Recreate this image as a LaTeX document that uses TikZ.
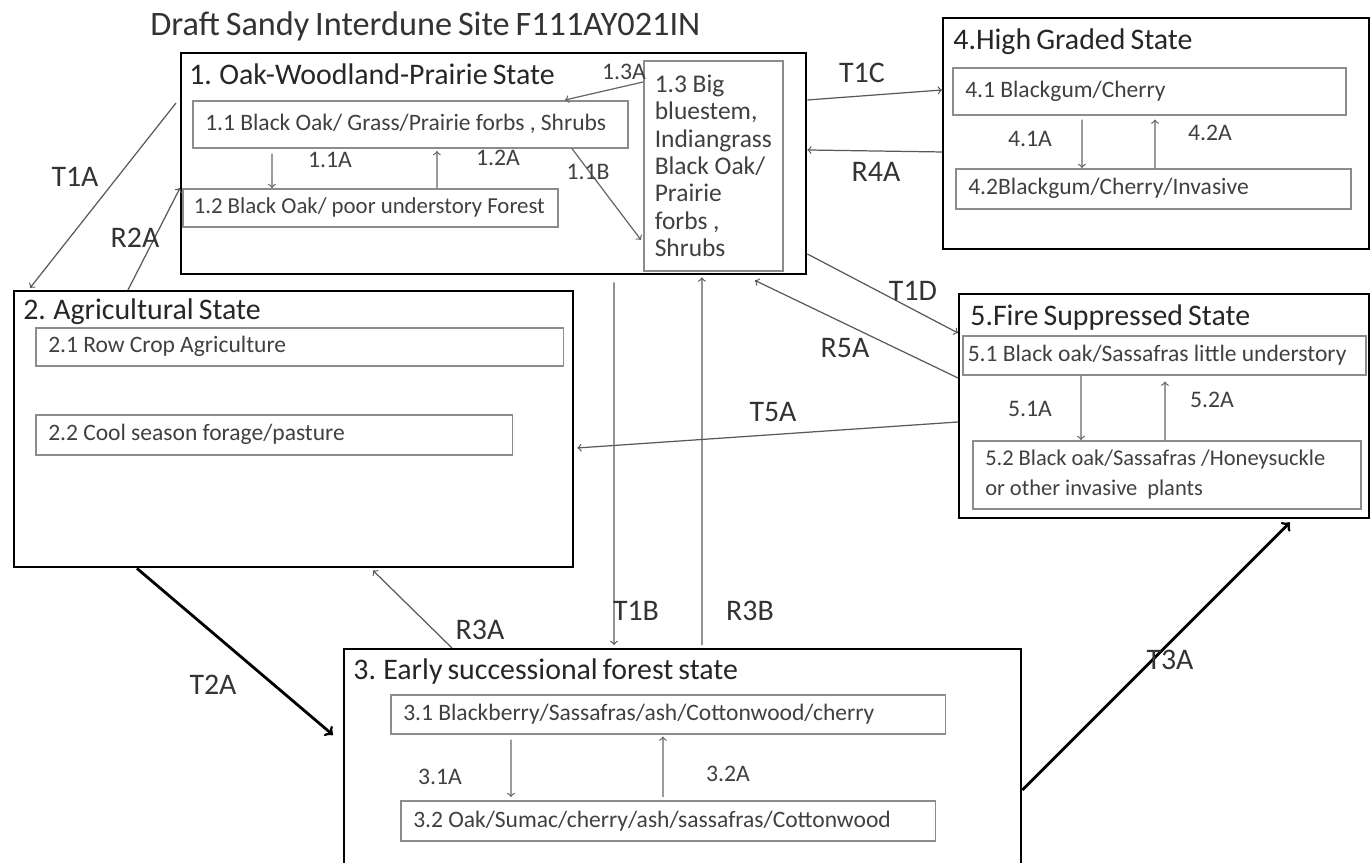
\documentclass[tikz,border=0pt]{standalone}
\usepackage{fontspec}
\setmainfont{Carlito}[WordSpace=0.75]
\usetikzlibrary{positioning}
\usetikzlibrary{arrows}

\begin{document}
\begin{tikzpicture}[x=0.02cm, y=-0.02cm,
	statebox/.style={draw, line width=1.4pt, anchor=north west, inner sep=0pt},
	stitle/.style={anchor=north west, inner sep=0pt, font=\fontsize{17}{20}\selectfont, text=black!85},
	subbox/.style={draw=black!45, line width=0.9pt, anchor=north west, inner xsep=0.25cm, inner ysep=0pt, align=left, font=\fontsize{13.4}{16}\selectfont, text=black!75, execute at begin node={\spaceskip=0.22em\relax}},
	lbl/.style={font=\fontsize{17}{19}\selectfont, text=black!80},
	slbl/.style={font=\fontsize{13.5}{15}\selectfont, text=black!75},
	link/.style={->, draw=black!65, line width=0.7pt},
	sublink/.style={->, draw=black!60, line width=0.7pt},
	boldlink/.style={->, draw=black, line width=1.6pt}]
			\useasboundingbox (0,0) rectangle (1372,862);
			\clip (0,0) rectangle (1372,862);
			\node[anchor=north west, inner sep=0pt, font=\fontsize{19.5}{22}\selectfont, text=black!80] (title) at (150,11) {Draft Sandy Interdune Site F111AY021IN};
			% state 1
			\node[statebox, minimum width=12.5cm, minimum height=4.42cm] (st-1) at (180,52) {};
			\node[stitle] (st-1-t) at (189,63) {1. Oak-Woodland-Prairie State};
			\node[subbox, text width=8.2cm, minimum height=0.94cm] (sub-1-1) at (192,100) {1.1 Black Oak/ Grass/Prairie forbs , Shrubs};
			\node[subbox, text width=7.06cm, inner xsep=0.22cm, minimum height=0.76cm, font=\fontsize{13}{15}\selectfont] (sub-1-2) at (182,188) {1.2 Black Oak/ poor understory Forest};
			\node[subbox, text width=2.34cm, minimum height=4.2cm, inner xsep=0.22cm, font=\fontsize{14.5}{15.6}\selectfont] (sub-1-3) at (643,60) {1.3 Big\\bluestem,\\Indiangrass\\Black Oak/\\Prairie\\forbs ,\\Shrubs};
			% state 4
			\node[statebox, minimum width=8.52cm, minimum height=4.62cm] (st-4) at (942,17) {};
			\node[stitle] (st-4-t) at (953,28) {4.High Graded State};
			\node[subbox, text width=7.36cm, minimum height=0.94cm] (sub-4-1) at (952,67) {4.1 Blackgum/Cherry};
			\node[subbox, text width=7.4cm, minimum height=0.8cm] (sub-4-2) at (955,168) {4.2Blackgum/Cherry/Invasive};
			% state 2
			\node[statebox, minimum width=11.18cm, minimum height=5.52cm] (st-2) at (13,290) {};
			\node[stitle] (st-2-t) at (23,298) {2. Agricultural State};
			\node[subbox, text width=10.06cm, minimum height=0.76cm] (sub-2-1) at (35,327) {2.1 Row Crop Agriculture};
			\node[subbox, text width=9.04cm, minimum height=0.8cm] (sub-2-2) at (35,414) {2.2 Cool season forage/pasture};
			% state 5
			\node[statebox, minimum width=8.2cm, minimum height=4.48cm] (st-5) at (958,293) {};
			\node[stitle] (st-5-t) at (970,304) {5.Fire Suppressed State};
			\node[subbox, minimum height=0.78cm, inner xsep=0.1cm, text width=7.86cm] (sub-5-1) at (962,335) {5.1 Black oak/Sassafras little understory};
			\node[subbox, text width=7.26cm, minimum height=1.36cm, font=\fontsize{12.8}{17}\selectfont] (sub-5-2) at (972,440) {5.2 Black oak/Sassafras /Honeysuckle\\or other invasive\ \ plants};
			% state 3
			\node[statebox, minimum width=13.54cm, minimum height=4.64cm] (st-3) at (343,648) {};
			\node[stitle] (st-3-t) at (353,658) {3. Early successional forest state};
			\node[subbox, text width=10.6cm, minimum height=0.78cm] (sub-3-1) at (390,694) {3.1 Blackberry/Sassafras/ash/Cottonwood/cherry};
			\node[subbox, text width=10.2cm, minimum height=0.8cm] (sub-3-2) at (400,800) {3.2 Oak/Sumac/cherry/ash/sassafras/Cottonwood};
			% community pathways
			\draw[sublink] ([xshift=1.6cm, yshift=-0.1cm]sub-1-1.south west) to ([xshift=1.8cm]sub-1-2.north west);
			\draw[sublink] ([xshift=5.1cm]sub-1-2.north west) to ([xshift=4.9cm, yshift=-0.05cm]sub-1-1.south west);
			\draw[sublink] ([xshift=7.6cm]sub-1-1.south west) to ([xshift=-0.04cm, yshift=-3.6cm]sub-1-3.north west);
			\draw[sublink] ([yshift=-0.44cm]sub-1-3.north west) to ([xshift=7.46cm]sub-1-1.north west);
			\node[slbl] (lbl-1-1a) at (330,160) {1.1A};
			\node[slbl] (lbl-1-2a) at (498,158) {1.2A};
			\node[slbl] (lbl-1-1b) at (588,172) {1.1B};
			\node[slbl] (lbl-1-3a) at (624,72) {1.3A};
			\draw[sublink] ([xshift=2.6cm, yshift=-0.08cm]sub-4-1.south west) to ([xshift=2.54cm]sub-4-2.north west);
			\draw[sublink] ([xshift=4.0cm]sub-4-2.north west) to ([xshift=4.06cm, yshift=-0.08cm]sub-4-1.south west);
			\node[slbl] (lbl-4-1a) at (1030,139) {4.1A};
			\node[slbl] (lbl-4-2a) at (1210,133) {4.2A};
			\draw[sublink] ([xshift=2.38cm]sub-5-1.south west) to ([xshift=2.18cm]sub-5-2.north west);
			\draw[sublink] ([xshift=3.86cm]sub-5-2.north west) to ([xshift=4.06cm, yshift=-0.12cm]sub-5-1.south west);
			\node[slbl] (lbl-5-1a) at (1030,409) {5.1A};
			\node[slbl] (lbl-5-2a) at (1212,400) {5.2A};
			\draw[sublink] ([xshift=2.42cm, yshift=-0.1cm]sub-3-1.south west) to ([xshift=2.22cm, yshift=0.06cm]sub-3-2.north west);
			\draw[sublink] ([xshift=5.26cm, yshift=0.06cm]sub-3-2.north west) to ([xshift=5.46cm, yshift=-0.04cm]sub-3-1.south west);
			\node[slbl] (lbl-3-1a) at (440,777) {3.1A};
			\node[slbl] (lbl-3-2a) at (728,774) {3.2A};
			% transitions
			\draw[link] ([xshift=-0.08cm, yshift=-1.02cm]st-1.north west) to ([xshift=0.34cm, yshift=0.04cm]st-2.north west);
			\draw[link] ([xshift=2.3cm]st-2.north west) to ([yshift=-2.72cm]st-1.north west);
			\draw[link] ([yshift=-0.96cm]st-1.north east) to ([yshift=-1.46cm]st-4.north west);
			\draw[link] ([yshift=-2.7cm]st-4.north west) to ([yshift=-1.96cm]st-1.north east);
			\draw[link] ([yshift=-4.04cm]st-1.north east) to ([yshift=-0.8cm]st-5.north west);
			\draw[link] ([yshift=-1.7cm]st-5.north west) to ([xshift=11.5cm, yshift=-0.1cm]st-1.south west);
			\draw[link] ([yshift=-2.58cm]st-5.north west) to ([xshift=0.06cm, yshift=-3.16cm]st-2.north east);
			\draw[link] ([xshift=8.68cm, yshift=-0.14cm]st-1.south west) to ([xshift=5.42cm, yshift=0.06cm]st-3.north west);
			\draw[link] ([xshift=7.18cm, yshift=0.06cm]st-3.north west) to ([xshift=10.44cm, yshift=-0.04cm]st-1.south west);
			\draw[link] ([xshift=2.18cm]st-3.north west) to ([xshift=7.2cm, yshift=-0.04cm]st-2.south west);
			\draw[boldlink] ([xshift=2.48cm]st-2.south west) to ([xshift=-0.2cm, yshift=-1.74cm]st-3.north west);
			\draw[boldlink] ([yshift=-2.84cm]st-3.north east) to ([xshift=6.64cm, yshift=-0.06cm]st-5.south west);
			\node[lbl] (lbl-t1a) at (75,177) {T1A};
			\node[lbl] (lbl-r2a) at (135,238) {R2A};
			\node[lbl] (lbl-t1c) at (862,73) {T1C};
			\node[lbl] (lbl-r4a) at (876,172) {R4A};
			\node[lbl] (lbl-t1d) at (913,291) {T1D};
			\node[lbl] (lbl-r5a) at (845,348) {R5A};
			\node[lbl] (lbl-t5a) at (773,412) {T5A};
			\node[lbl] (lbl-t1b) at (636,611) {T1B};
			\node[lbl] (lbl-r3b) at (750,611) {R3B};
			\node[lbl] (lbl-r3a) at (480,630) {R3A};
			\node[lbl] (lbl-t2a) at (213,685) {T2A};
			\node[lbl] (lbl-t3a) at (1170,660) {T3A};
		\end{tikzpicture}
\end{document}
